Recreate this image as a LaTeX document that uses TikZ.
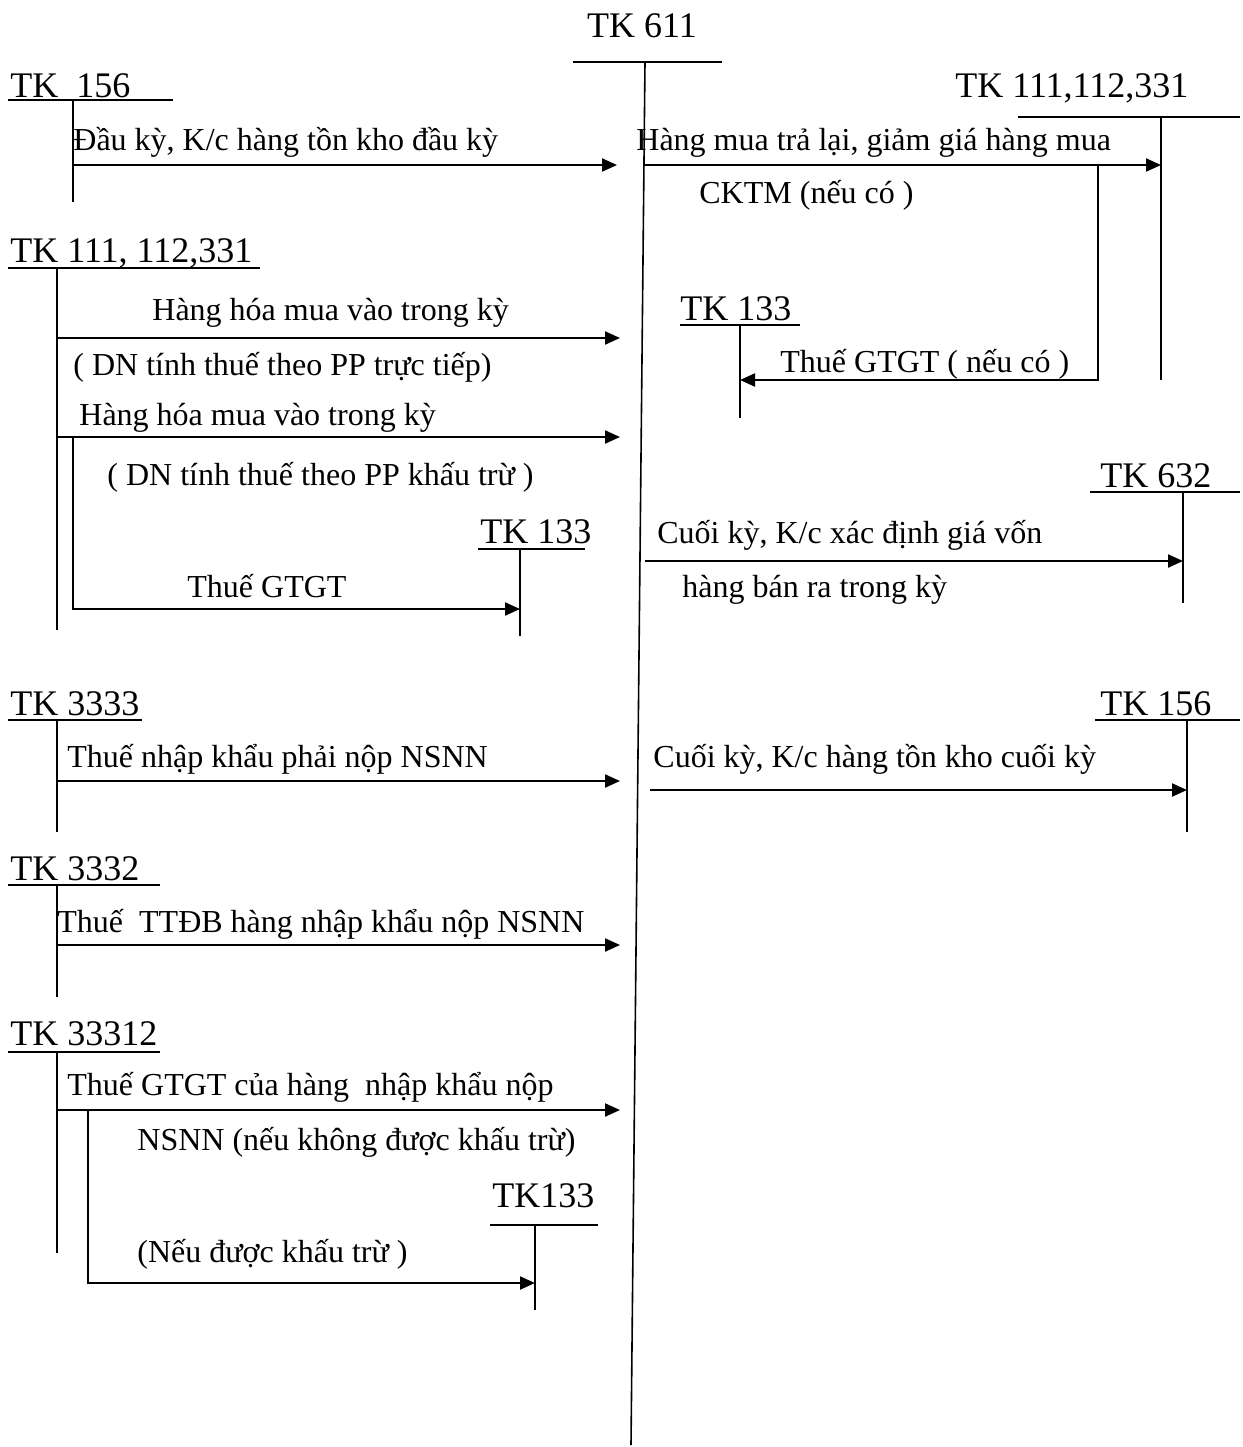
\documentclass[tikz,border=0pt]{standalone}
\usepackage{fontspec}
\setmainfont{Liberation Serif}
\usetikzlibrary{arrows.meta}
\newcommand{\tkf}{\fontsize{18}{21}\selectfont}
\newcommand{\lbf}{\fontsize{16}{19}\selectfont}

\begin{document}
\begin{tikzpicture}[x=0.5pt, y=-0.5pt,
    tk/.style={anchor=base west, inner sep=0pt, font=\tkf},
    lb/.style={anchor=base west, inner sep=0pt, font=\lbf},
    acc/.style={line width=0.8pt},
    flow/.style={line width=1.1pt, -{Triangle[length=7.5pt, width=6.5pt]}}]
  \useasboundingbox (0,0) rectangle (1243,1447);

  % TK 611 (main account)
  \node[tk, anchor=base] (t611) at (642,37) {TK 611};
  \coordinate (a611-l) at (573,62);
  \coordinate (a611-r) at (722,62);
  \coordinate (a611-t) at (645,62);
  \coordinate (a611-b) at (631,1445);
  \draw[acc] (a611-l) -- (a611-r);
  \draw[acc] (a611-t) -- (a611-b);

  % account titles
  \node[tk] (t156)   at (10,97)    {TK\ \ 156};
  \node[tk] (t111r)  at (955,97)   {TK 111,112,331};
  \node[tk] (t133r)  at (680,320)  {TK 133};
  \node[tk] (t111l)  at (10,262)   {TK 111, 112,331};
  \node[tk] (t133l)  at (480,543)  {TK 133};
  \node[tk] (t632)   at (1100,487) {TK 632};
  \node[tk] (t3333)  at (10,715)   {TK 3333};
  \node[tk] (t156r)  at (1100,715) {TK 156};
  \node[tk] (t3332)  at (10,880)   {TK 3332};
  \node[tk] (t33312) at (10,1045)  {TK 33312};
  \node[tk] (t133b)  at (492,1207) {TK133};

  % T-accounts: name/left/right/y/stem x/stem end
  \foreach \n/\xl/\xr/\y/\xv/\yb in {a156/8/173/100/73/202,
      a111r/1018/1240/117/1161/380, a133r/680/800/325/740/418,
      a111l/8/260/268/57/630, a133l/478/585/549/520/636,
      a632/1090/1240/492/1183/603, a3333/8/142/720/57/832,
      a156r/1095/1240/720/1187/832, a3332/8/160/885/57/997,
      a33312/8/160/1052/57/1253, a133b/490/598/1225/535/1310} {
    \coordinate (\n-l) at (\xl,\y);
    \coordinate (\n-r) at (\xr,\y);
    \coordinate (\n-t) at (\xv,\y);
    \coordinate (\n-b) at (\xv,\yb);
    \draw[acc] (\n-l) -- (\n-r);
    \draw[acc] (\n-t) -- (\n-b);
  }

  % arrow ends: name/x start/y/x end
  \foreach \n/\xs/\y/\xe in {f1/73/165/617, f2/645/165/1161,
      f3/57/338/620, f4/57/437/620, f5/645/561/1183,
      f6/57/781/620, f7/650/790/1187, f8/57/945/620,
      f9/57/1110/620} {
    \coordinate (\n-s) at (\xs,\y);
    \coordinate (\n-e) at (\xe,\y);
    \draw[flow] (\n-s) -- (\n-e);
  }
  \coordinate (g1-s) at (1098,165);
  \coordinate (g1-e) at (740,380);
  \coordinate (g2-s) at (73,437);
  \coordinate (g2-e) at (520,609);
  \coordinate (g3-s) at (88,1110);
  \coordinate (g3-e) at (535,1283);
  \draw[flow] (g1-s) |- (g1-e);
  \draw[flow] (g2-s) |- (g2-e);
  \draw[flow] (g3-s) |- (g3-e);

  % texts on the arrows
  \node[lb] (x1)  at (73,150)   {Đầu kỳ, K/c hàng tồn kho đầu kỳ};
  \node[lb] (x2)  at (636,150)  {Hàng mua trả lại, giảm giá hàng mua};
  \node[lb] (x3)  at (699,203)  {CKTM (nếu có )};
  \node[lb] (x4)  at (780,372)  {Thuế GTGT ( nếu có )};
  \node[lb] (x5)  at (152,320)  {Hàng hóa mua vào trong kỳ};
  \node[lb] (x6)  at (73,375)   {( DN tính thuế theo PP trực tiếp)};
  \node[lb] (x7)  at (79,425)   {Hàng hóa mua vào trong kỳ};
  \node[lb] (x8)  at (107,485)  {( DN tính thuế theo PP khấu trừ )};
  \node[lb] (x9)  at (187,597)  {Thuế GTGT};
  \node[lb] (x10) at (657,543)  {Cuối kỳ, K/c xác định giá vốn};
  \node[lb] (x11) at (682,597)  {hàng bán ra trong kỳ};
  \node[lb] (x12) at (67,767)   {Thuế nhập khẩu phải nộp NSNN};
  \node[lb] (x13) at (653,767)  {Cuối kỳ, K/c hàng tồn kho cuối kỳ};
  \node[lb] (x14) at (57,932)   {Thuế\ \ TTĐB hàng nhập khẩu nộp NSNN};
  \node[lb] (x15) at (67,1095)  {Thuế GTGT của hàng\ \ nhập khẩu nộp};
  \node[lb] (x16) at (137,1150) {NSNN (nếu không được khấu trừ)};
  \node[lb] (x17) at (137,1262) {(Nếu được khấu trừ )};
\end{tikzpicture}
\end{document}
